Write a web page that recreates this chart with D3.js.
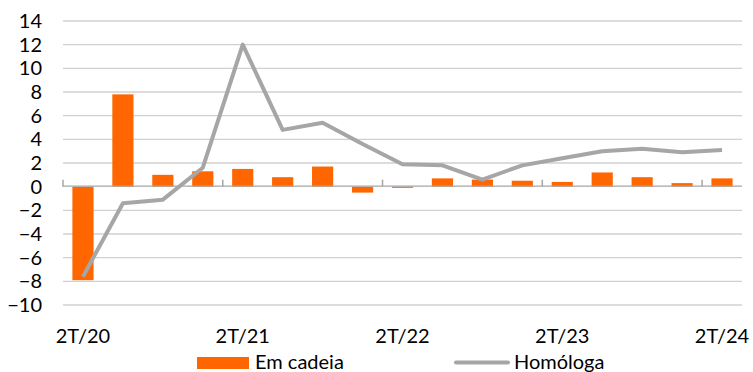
<!DOCTYPE html>
<html>
<head>
<meta charset="utf-8">
<script src="https://cdn.jsdelivr.net/npm/d3@7"></script>
<style>
  html, body { margin: 0; padding: 0; background: #fff; }
  svg { display: block; font-family: Lato, "Open Sans", sans-serif; }
</style>
</head>
<body>
<svg id="chart" width="753" height="372"></svg>
<script>
// Quarterly growth (%): quarter-on-quarter bars and year-on-year line
const quarters = ["2T/20","3T/20","4T/20","1T/21","2T/21","3T/21","4T/21","1T/22",
                  "2T/22","3T/22","4T/22","1T/23","2T/23","3T/23","4T/23","1T/24","2T/24"];
const emCadeia = [-7.9, 7.8, 1.0, 1.3, 1.5, 0.8, 1.7, -0.5, -0.1, 0.7, 0.6, 0.5, 0.4, 1.2, 0.8, 0.3, 0.7];
const homologa = [-7.6, -1.4, -1.1, 1.6, 12.0, 4.8, 5.4, 3.6, 1.9, 1.8, 0.6, 1.8, 2.4, 3.0, 3.2, 2.9, 3.1];
const yTicks = [-10, -8, -6, -4, -2, 0, 2, 4, 6, 8, 10, 12, 14];
const labelledQuarters = ["2T/20", "2T/21", "2T/22", "2T/23", "2T/24"];

const svg = d3.select("#chart");
const plotLeft = 63, plotRight = 742, plotTop = 21, plotBottom = 305;

const x = d3.scaleBand().domain(quarters).range([plotLeft, plotRight]).paddingInner(0.47).paddingOuter(0.235);
const xc = d3.scaleBand().domain(quarters).range([plotLeft, plotRight]);
const y = d3.scaleLinear().domain([-10, 14]).range([plotBottom, plotTop]);

// horizontal gridlines
svg.append("g").selectAll("line").data(yTicks.filter(d => d !== 0)).join("line")
  .attr("x1", plotLeft).attr("x2", plotRight)
  .attr("y1", d => y(d)).attr("y2", d => y(d))
  .attr("stroke", "#d0d0d0").attr("stroke-width", 1.3);

// y axis labels
const yAxis = d3.axisLeft(y).tickValues(yTicks).tickSize(0).tickPadding(0).tickFormat(d3.format("d"));
svg.append("g").attr("transform", `translate(42,0)`).call(yAxis)
  .call(g => g.select(".domain").remove())
  .selectAll("text").attr("font-size", 20).attr("fill", "#000")
  .attr("font-family", "Lato, 'Open Sans', sans-serif");

// bars
svg.append("g").selectAll("rect").data(emCadeia).join("rect")
  .attr("x", (d, i) => x(quarters[i]))
  .attr("width", x.bandwidth())
  .attr("y", d => y(Math.max(0, d)))
  .attr("height", d => Math.abs(y(d) - y(0)))
  .attr("fill", "#ff6600");

// zero axis with tick marks every four quarters
const zeroY = y(0);
svg.append("line").attr("x1", plotLeft).attr("x2", plotRight)
  .attr("y1", zeroY - 0.5).attr("y2", zeroY - 0.5)
  .attr("stroke", "#a6a6a6").attr("stroke-width", 1.2);
svg.append("g").selectAll("line").data(labelledQuarters).join("line")
  .attr("x1", d => xc(d)).attr("x2", d => xc(d))
  .attr("y1", zeroY - 7).attr("y2", zeroY)
  .attr("stroke", "#a6a6a6").attr("stroke-width", 1.5);

// category labels
svg.append("g").selectAll("text").data(labelledQuarters).join("text")
  .attr("x", d => xc(d) + xc.bandwidth() / 2)
  .attr("y", 343)
  .attr("text-anchor", "middle")
  .attr("font-size", 20)
  .attr("fill", "#000")
  .text(d => d);

// year-on-year line
const line = d3.line()
  .x((d, i) => xc(quarters[i]) + xc.bandwidth() / 2)
  .y(d => y(d));
svg.append("path").datum(homologa)
  .attr("d", line)
  .attr("fill", "none")
  .attr("stroke", "#a6a6a6")
  .attr("stroke-width", 4)
  .attr("stroke-linejoin", "round");

// legend
const lg = svg.append("g");
lg.append("rect").attr("x", 197).attr("y", 357).attr("width", 52).attr("height", 12).attr("fill", "#ff6600");
lg.append("text").attr("x", 255).attr("y", 369).attr("font-size", 20).attr("fill", "#000").text("Em cadeia");
lg.append("line").attr("x1", 456).attr("x2", 508).attr("y1", 362.5).attr("y2", 362.5)
  .attr("stroke", "#a6a6a6").attr("stroke-width", 4).attr("stroke-linecap", "round");
lg.append("text").attr("x", 514).attr("y", 369).attr("font-size", 20).attr("fill", "#000").text("Homóloga");
</script>
</body>
</html>
